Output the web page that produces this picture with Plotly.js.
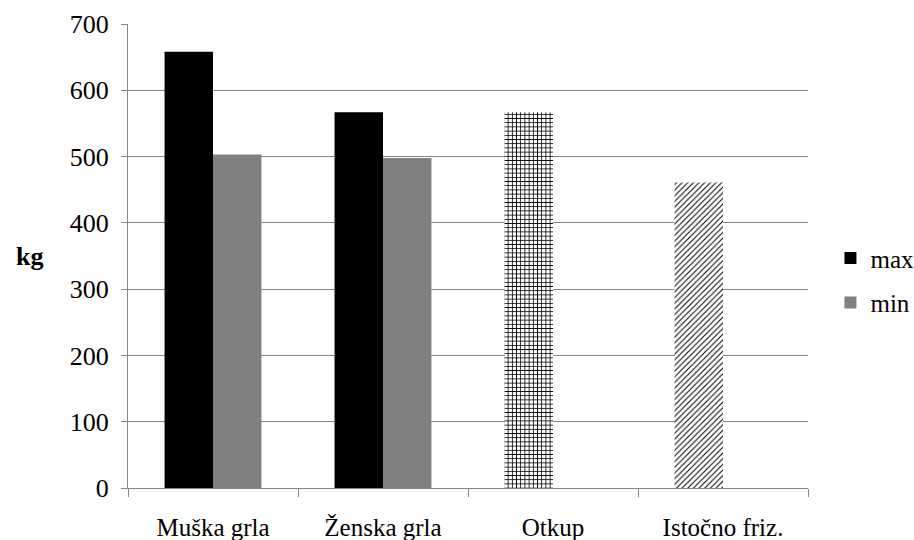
<!DOCTYPE html>
<html>
<head>
<meta charset="utf-8">
<script src="https://cdn.plot.ly/plotly-3.0.1.min.js"></script>
<style>html,body{margin:0;padding:0;background:#fff;}#chart{width:914px;height:540px;}</style>
</head>
<body>
<div id="chart"></div>
<script>
const categories = ["Muška grla", "Ženska grla", "Otkup", "Istočno friz."];
const maxValues = [658, 567, 567, 461];
const minValues = [503, 498, null, null];
const maxPatterns = ["", "", "+", "/"];
const yTicks = [0, 100, 200, 300, 400, 500, 600, 700];

const font = "'Times New Roman', 'Liberation Serif', 'DejaVu Serif', serif";
const grid = "#868686";

const traces = [
  {
    type: "bar", name: "max", x: categories, y: maxValues,
    marker: {
      color: "#000000",
      pattern: { shape: maxPatterns, fillmode: "replace", bgcolor: "#ffffff", fgcolor: "#000000", size: [5, 5, 4.2, 4], solidity: [0.3, 0.3, 0.35, 0.25] }
    },
    legendgroup: "a", hoverinfo: "none"
  },
  {
    type: "bar", name: "min", x: categories, y: minValues,
    marker: { color: "#808080" },
    legendgroup: "b", hoverinfo: "none"
  }
];

const layout = {
  width: 914, height: 540,
  margin: { l: 128, r: 106, t: 24, b: 52, autoexpand: false },
  paper_bgcolor: "#ffffff", plot_bgcolor: "#ffffff",
  font: { family: font, size: 25, color: "#000000" },
  barmode: "group", bargap: 0.43, bargroupgap: 0,
  showlegend: true,
  legend: { x: 1.033, xanchor: "left", y: 0.448, yanchor: "middle", tracegroupgap: 9, font: { size: 25, family: font }, itemwidth: 30 },
  xaxis: {
    type: "category", showline: true, linecolor: grid, linewidth: 1,
    ticks: "outside", tickson: "boundaries", ticklen: 8, tickcolor: grid,
    showgrid: false, tickfont: { size: 25, family: font }, ticklabelstandoff: 17
  },
  yaxis: {
    range: [0, 700], tickvals: yTicks, showline: true, linecolor: grid, linewidth: 1,
    ticks: "outside", ticklen: 6, tickcolor: grid,
    showgrid: true, gridcolor: grid, gridwidth: 1, zeroline: false,
    tickfont: { size: 26, family: font }, ticklabelstandoff: 7
  },
  annotations: [
    { text: "<b>kg</b>", xref: "paper", yref: "paper", x: -0.145, y: 0.498, xanchor: "center", yanchor: "middle", showarrow: false, font: { size: 26, family: font } }
  ]
};

Plotly.newPlot("chart", traces, layout, { displayModeBar: false, staticPlot: true });
</script>
</body>
</html>
